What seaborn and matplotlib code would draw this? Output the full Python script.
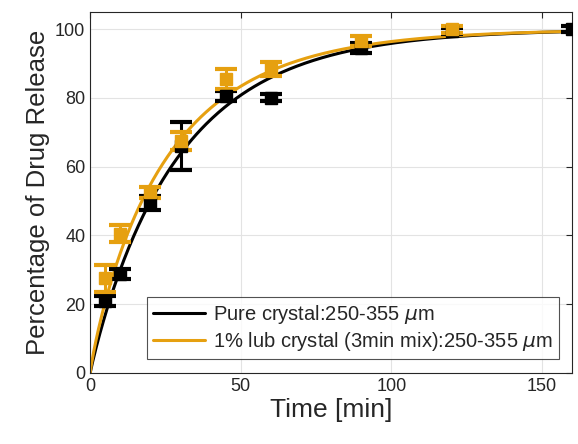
import numpy as np
import pandas as pd
import matplotlib
matplotlib.use("Agg")
import matplotlib.pyplot as plt
import seaborn as sns

# Measured data
time_pts = [5, 10, 20, 30, 45, 60, 90, 120, 160]
pure_mean = [21.0, 28.8, 49.5, 66.0, 80.5, 80.0, 94.5, 99.5, 100.0]
pure_err = [1.5, 1.5, 2.0, 7.0, 1.5, 1.0, 1.5, 0.8, 0.8]
lub_time = [5, 10, 20, 30, 45, 60, 90, 120]
lub_mean = [27.5, 40.5, 52.5, 67.5, 85.5, 88.5, 96.5, 100.0]
lub_err = [4.0, 2.5, 1.5, 2.5, 3.0, 2.0, 1.5, 1.0]

# Fitted Weibull release parameters (scale tau [min], shape b)
tau_pure, b_pure = 29.5, 0.95
tau_lub, b_lub = 25.9, 0.89

labels = ["Pure crystal:250-355 $\\mu$m", "1% lub crystal (3min mix):250-355 $\\mu$m"]
colors = ["#000000", "#E6A010"]

sns.set_style("whitegrid")
plt.rcParams['font.family'] = ['Liberation Sans', 'DejaVu Sans']
plt.rcParams['mathtext.fontset'] = 'dejavusans'

fig = plt.figure(figsize=(5.78, 4.44), dpi=100)
ax = fig.add_axes([0.156, 0.16, 0.834, 0.813])

t_fit = np.linspace(0, 160, 400)
fit_df = pd.concat([
    pd.DataFrame({"t": t_fit, "y": 100 * (1 - np.exp(-(t_fit / tau_pure) ** b_pure)), "s": labels[0]}),
    pd.DataFrame({"t": t_fit, "y": 100 * (1 - np.exp(-(t_fit / tau_lub) ** b_lub)), "s": labels[1]}),
])
sns.lineplot(data=fit_df, x="t", y="y", hue="s", palette=colors, linewidth=2.2, ax=ax)

for tt, m, e, c in [(time_pts, pure_mean, pure_err, colors[0]), (lub_time, lub_mean, lub_err, colors[1])]:
    ax.errorbar(tt, m, yerr=e, fmt='s', color=c, markersize=8, capsize=8,
                elinewidth=2.2, capthick=3, zorder=3)

ax.set_xlim(0, 160)
ax.set_ylim(0, 105)
ax.set_xticks([0, 50, 100, 150])
ax.set_yticks([0, 20, 40, 60, 80, 100])
ax.grid(True, color="#e3e3e3", linewidth=0.8)
ax.set_facecolor("white")
for sp in ax.spines.values():
    sp.set_color("#262626")
    sp.set_linewidth(0.8)
ax.tick_params(direction='in', top=True, right=True, length=4, labelsize=13, color="#262626")
ax.set_xlabel("Time [min]", fontsize=19, labelpad=2)
ax.set_ylabel("Percentage of Drug Release", fontsize=18.5, labelpad=4)

leg = ax.legend(loc='lower right', fontsize=14.5, frameon=True, fancybox=False,
                edgecolor="#262626", borderaxespad=0.4, handlelength=2.6, handletextpad=0.4,
                borderpad=0.3, labelspacing=0.2, bbox_to_anchor=(0.99, 0.015))
leg.get_frame().set_linewidth(0.8)

fig.savefig("out.png", dpi=100)
